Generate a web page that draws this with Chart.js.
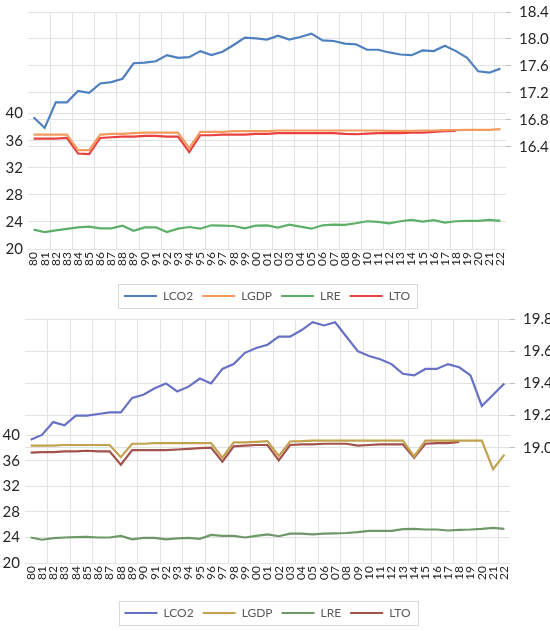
<!DOCTYPE html>
<html>
<head>
<meta charset="utf-8">
<script src="https://cdn.jsdelivr.net/npm/chart.js@4/dist/chart.umd.min.js"></script>
<style>
  body { margin: 0; background: #fff; }
  canvas { display: block; }
</style>
</head>
<body>
<canvas id="top" width="550" height="312"></canvas>
<canvas id="bottom" width="550" height="319"></canvas>
<script>
const years = ['80','81','82','83','84','85','86','87','88','89','90','91','92','93','94','95','96','97','98','99',
  '00','01','02','03','04','05','06','07','08','09','10','11','12','13','14','15','16','17','18','19','20','21','22'];

const leftTicks = [20, 24, 28, 32, 36, 40];
const rightTicksTop = [16.4, 16.8, 17.2, 17.6, 18.0, 18.4];
const rightTicksBottom = [19.0, 19.2, 19.4, 19.6, 19.8];

// top panel
const lco2A = [16.84,16.68,17.06,17.06,17.23,17.20,17.34,17.36,17.41,17.64,
  17.65,17.67,17.76,17.72,17.73,17.82,17.76,17.81,17.91,18.02,
  18.01,17.99,18.05,17.99,18.03,18.08,17.98,17.97,17.93,17.92,
  17.84,17.84,17.80,17.77,17.76,17.83,17.82,17.90,17.82,17.72,
  17.52,17.50,17.56];
const lgdpA = [36.9,36.9,36.9,36.9,34.6,34.6,36.9,37.0,37.0,37.1,
  37.2,37.2,37.2,37.2,34.9,37.3,37.3,37.3,37.4,37.4,
  37.4,37.4,37.5,37.5,37.5,37.5,37.5,37.5,37.5,37.5,
  37.5,37.5,37.45,37.45,37.45,37.5,37.5,37.55,37.55,37.6,
  37.6,37.6,37.7];
const lreA = [22.86,22.5,22.75,22.96,23.2,23.3,23.05,23.05,23.45,22.7,
  23.2,23.2,22.5,23.0,23.25,23.0,23.5,23.45,23.4,23.05,
  23.45,23.5,23.15,23.6,23.3,23.0,23.5,23.6,23.55,23.8,
  24.1,24.0,23.8,24.1,24.3,24.05,24.25,23.9,24.1,24.15,
  24.15,24.3,24.15];
const ltoA = [36.3,36.3,36.3,36.4,34.1,34.0,36.4,36.5,36.6,36.6,
  36.7,36.7,36.6,36.6,34.3,36.8,36.8,36.9,36.9,36.9,
  37.0,37.0,37.1,37.1,37.1,37.1,37.1,37.1,37.0,36.95,
  37.05,37.1,37.1,37.1,37.2,37.2,37.3,37.4,37.45,null,
  null,null,null];

// bottom panel
const lco2B = [19.05,19.08,19.16,19.14,19.20,19.20,19.21,19.22,19.22,19.31,
  19.33,19.37,19.40,19.35,19.38,19.43,19.40,19.49,19.52,19.59,
  19.62,19.64,19.69,19.69,19.73,19.78,19.76,19.78,19.69,19.60,
  19.57,19.55,19.52,19.46,19.45,19.49,19.49,19.52,19.50,19.45,
  19.26,19.33,19.40];
const lgdpB = [38.4,38.4,38.4,38.5,38.5,38.5,38.5,38.5,36.6,38.7,
  38.7,38.8,38.8,38.8,38.8,38.8,38.8,36.5,38.9,38.9,
  39.0,39.1,36.8,39.05,39.1,39.2,39.2,39.2,39.2,39.2,
  39.2,39.2,39.2,39.2,36.7,39.2,39.2,39.2,39.2,39.2,
  39.2,34.7,37.0];
const lreB = [24.0,23.65,23.9,24.0,24.05,24.1,24.0,24.0,24.25,23.7,
  23.95,23.95,23.7,23.85,23.95,23.8,24.4,24.25,24.25,24.0,
  24.25,24.5,24.2,24.6,24.6,24.5,24.6,24.65,24.7,24.85,
  25.05,25.05,25.05,25.3,25.35,25.25,25.25,25.1,25.2,25.25,
  25.35,25.5,25.35];
const ltoB = [37.3,37.4,37.4,37.5,37.5,37.6,37.5,37.5,35.4,37.7,
  37.7,37.7,37.7,37.8,37.9,38.0,38.1,35.9,38.3,38.4,
  38.5,38.5,36.1,38.5,38.6,38.6,38.7,38.7,38.7,38.4,
  38.5,38.6,38.6,38.6,36.5,38.7,38.8,38.8,39.0,null,
  null,null,null];

Chart.defaults.font.family = 'Lato, "Open Sans", sans-serif';

// frame round the legend, like the Excel legend box
const legendFrame = {
  id: 'legendFrame',
  afterDraw(chart) {
    const boxes = chart.legend && chart.legend.legendHitBoxes;
    if (!boxes || !boxes.length) return;
    const l = Math.min(...boxes.map(b => b.left)) - 6;
    const r = Math.max(...boxes.map(b => b.left + b.width)) + 7;
    const t = Math.min(...boxes.map(b => b.top)) - 6;
    const b = Math.max(...boxes.map(b => b.top + b.height)) + 6;
    const ctx = chart.ctx;
    ctx.save();
    ctx.strokeStyle = '#d9d9d9';
    ctx.lineWidth = 1;
    ctx.strokeRect(Math.round(l) + 0.5, Math.round(t) + 0.5, Math.round(r - l), Math.round(b - t));
    ctx.restore();
  }
};

function line(label, data, color, axis) {
  return {label: label, data: data, borderColor: color, backgroundColor: color,
    borderWidth: 2.2, pointRadius: 0, tension: 0, yAxisID: axis, spanGaps: false};
}

// y tick labels may hang over the plot edge without pushing it
function noOverhang(s, w) {
  s.width = w;
  s.paddingTop = 0;
  s.paddingBottom = 0;
}

function panel(id, sets, right, rmin, rmax, lmax, lw, rw, padTop, padBottom, xh) {
  const grid = '#e2e2e2';
  new Chart(document.getElementById(id), {
    type: 'line',
    data: {labels: years, datasets: sets},
    options: {
      responsive: false,
      animation: false,
      layout: {padding: {top: padTop, left: 0, right: 0, bottom: padBottom}},
      plugins: {
        tooltip: {enabled: false},
        legend: {
          position: 'bottom',
          fullSize: false,
          labels: {usePointStyle: true, pointStyle: 'line', pointStyleWidth: 33,
            font: {size: 12}, color: '#595959', padding: 9}
        }
      },
      scales: {
        x: {
          offset: true,
          grid: {offset: true, drawTicks: false,
            color: c => (c.index > 0 && c.index % 2 === 0) ? grid : 'rgba(0,0,0,0)'},
          border: {display: false},
          ticks: {autoSkip: false, minRotation: 90, maxRotation: 90, padding: 3,
            font: {size: 12}, color: '#262626'},
          afterFit: s => { s.height = xh; }
        },
        y: {
          position: 'left', min: 20, max: lmax,
          afterBuildTicks: s => { s.ticks = leftTicks.map(v => ({value: v})); },
          grid: {color: grid, drawTicks: false},
          border: {display: false},
          ticks: {font: {size: 15}, color: '#262626', padding: 5},
          afterFit: s => noOverhang(s, lw)
        },
        y1: {
          position: 'right', min: rmin, max: rmax,
          afterBuildTicks: s => { s.ticks = right.map(v => ({value: v})); },
          grid: {color: grid, tickLength: 5, tickColor: '#bfbfbf'},
          border: {display: false},
          ticks: {font: {size: 15}, color: '#262626', padding: 8,
            callback: v => Number(v).toFixed(1)},
          afterFit: s => noOverhang(s, rw)
        }
      }
    },
    plugins: [legendFrame]
  });
}

panel('top', [
  line('LCO2', lco2A, '#4E7FBF', 'y1'),
  line('LGDP', lgdpA, '#F39A5E', 'y'),
  line('LRE', lreA, '#5DAF6A', 'y'),
  line('LTO', ltoA, '#E8413F', 'y')
], rightTicksTop, 14.885, 18.4, 55.0, 28, 44, 12, 0, 32);

panel('bottom', [
  line('LCO2', lco2B, '#6670C4', 'y1'),
  line('LGDP', lgdpB, '#C2A24E', 'y'),
  line('LRE', lreB, '#6F9868', 'y'),
  line('LTO', ltoB, '#A2514B', 'y')
], rightTicksBottom, 18.285, 19.8, 58.26, 25, 40, 7, 2, 35);
</script>
</body>
</html>
